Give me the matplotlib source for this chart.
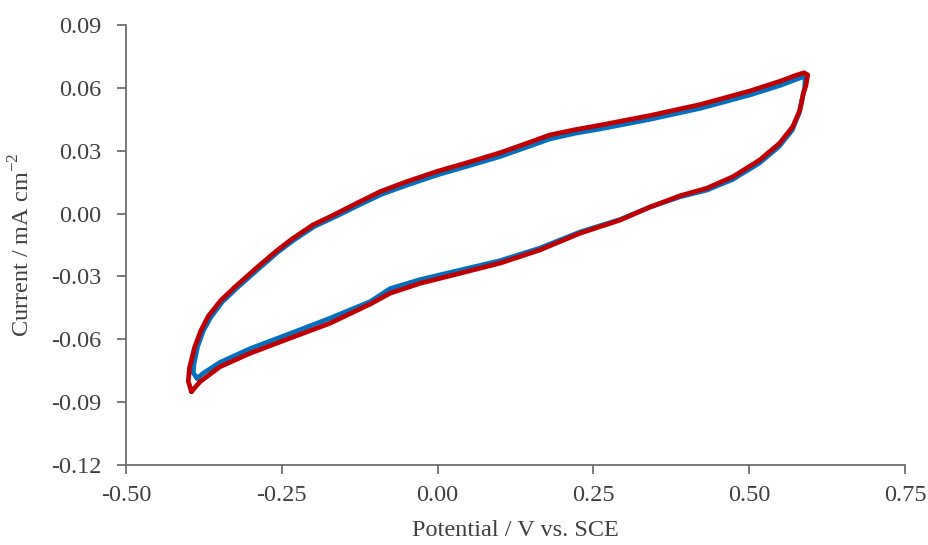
import numpy as np
import matplotlib.pyplot as plt

plt.rcParams['font.family'] = ['Liberation Serif', 'DejaVu Serif']
plt.rcParams['mathtext.fontset'] = 'custom'
plt.rcParams['mathtext.rm'] = 'Liberation Serif'

# cycle 1 (blue): anodic sweep then cathodic sweep
E_blue = [-0.386, -0.392, -0.391, -0.385, -0.376, -0.364, -0.345, -0.322, -0.303, -0.282, -0.256, -0.230,
          -0.198, -0.165, -0.128, -0.090, -0.048, 0.000, 0.050, 0.100, 0.140, 0.180, 0.220, 0.261,
          0.341, 0.421, 0.501, 0.550, 0.575, 0.586, 0.590,
          0.589, 0.586, 0.580, 0.569, 0.548, 0.516, 0.473, 0.432, 0.389, 0.340, 0.293, 0.2285,
          0.164, 0.100, 0.036, -0.028, -0.076, -0.108, -0.173, -0.237, -0.301, -0.349, -0.375, -0.386]
I_blue = [-0.0786, -0.0760, -0.0720, -0.0635, -0.0560, -0.0495, -0.0420, -0.0355, -0.0305, -0.0250, -0.0183, -0.0125,
          -0.0062, -0.0016, 0.0038, 0.0092, 0.0137, 0.0185, 0.0228, 0.0272, 0.0314, 0.0356, 0.0383, 0.0404,
          0.0450, 0.0502, 0.0566, 0.0612, 0.0640, 0.0652, 0.0645,
          0.0600, 0.0560, 0.0478, 0.0398, 0.0320, 0.0240, 0.0162, 0.0112, 0.0080, 0.0030, -0.0028, -0.0088,
          -0.0165, -0.0225, -0.0270, -0.0315, -0.0358, -0.0420, -0.0500, -0.0573, -0.0645, -0.0710, -0.0760, -0.0786]

# cycle 2 (red)
E_red = [-0.395, -0.400, -0.398, -0.390, -0.380, -0.368, -0.348, -0.325, -0.306, -0.285, -0.258, -0.232,
         -0.200, -0.167, -0.130, -0.092, -0.050, 0.000, 0.050, 0.100, 0.140, 0.180, 0.220, 0.261,
         0.341, 0.421, 0.501, 0.550, 0.575, 0.588, 0.594,
         0.591, 0.587, 0.5815, 0.570, 0.549, 0.517, 0.474, 0.432, 0.389, 0.340, 0.293, 0.2285,
         0.164, 0.100, 0.036, -0.028, -0.076, -0.108, -0.173, -0.237, -0.301, -0.349, -0.381, -0.395]
I_red = [-0.0850, -0.0800, -0.0735, -0.0640, -0.0560, -0.0490, -0.0415, -0.0350, -0.0300, -0.0245, -0.0177, -0.0118,
         -0.0054, -0.0007, 0.0049, 0.0105, 0.0152, 0.0202, 0.0245, 0.0290, 0.0332, 0.0375, 0.0400, 0.0422,
         0.0468, 0.0520, 0.0585, 0.0632, 0.0660, 0.0672, 0.0662,
         0.0610, 0.0574, 0.0494, 0.0415, 0.0336, 0.0256, 0.0176, 0.0121, 0.0085, 0.0030, -0.0031, -0.0094,
         -0.0174, -0.0237, -0.0285, -0.0333, -0.0380, -0.0432, -0.0524, -0.0595, -0.0667, -0.0731, -0.0802, -0.0850]

xticks = [-0.50, -0.25, 0.00, 0.25, 0.50, 0.75]
yticks = [-0.12, -0.09, -0.06, -0.03, 0.00, 0.03, 0.06, 0.09]

fig = plt.figure(figsize=(9.29, 5.45), dpi=100)
ax = fig.add_axes([0.1356, 0.1468, 0.8385, 0.8073])

ax.plot(E_blue, I_blue, color='#0070C0', lw=3.4, solid_joinstyle='round', solid_capstyle='round')
ax.plot(E_red, I_red, color='#C00000', lw=3.4, solid_joinstyle='round', solid_capstyle='round')

ax.set_xlim(-0.5, 0.75)
ax.set_ylim(-0.12, 0.09)
ax.set_xticks(xticks)
ax.set_yticks(yticks)
ax.set_xticklabels(['%.2f' % v for v in xticks])
ax.set_yticklabels(['%.2f' % v for v in yticks])

for s in ['top', 'right']:
    ax.spines[s].set_visible(False)
for s in ['left', 'bottom']:
    ax.spines[s].set_color('#6e6e6e')
    ax.spines[s].set_linewidth(1.3)

ax.tick_params(direction='out', length=6.5, width=1.3, color='#6e6e6e',
               labelsize=17.5, labelcolor='#404040')
ax.tick_params(axis='y', pad=11)
ax.tick_params(axis='x', pad=8)

ax.set_xlabel('Potential / V vs. SCE', fontsize=17.5, color='#404040', labelpad=10)
ax.set_ylabel(r'Current / mA cm$^{\mathregular{-2}}$', fontsize=17.5, color='#404040', labelpad=12)

fig.savefig('out.png', dpi=100)
